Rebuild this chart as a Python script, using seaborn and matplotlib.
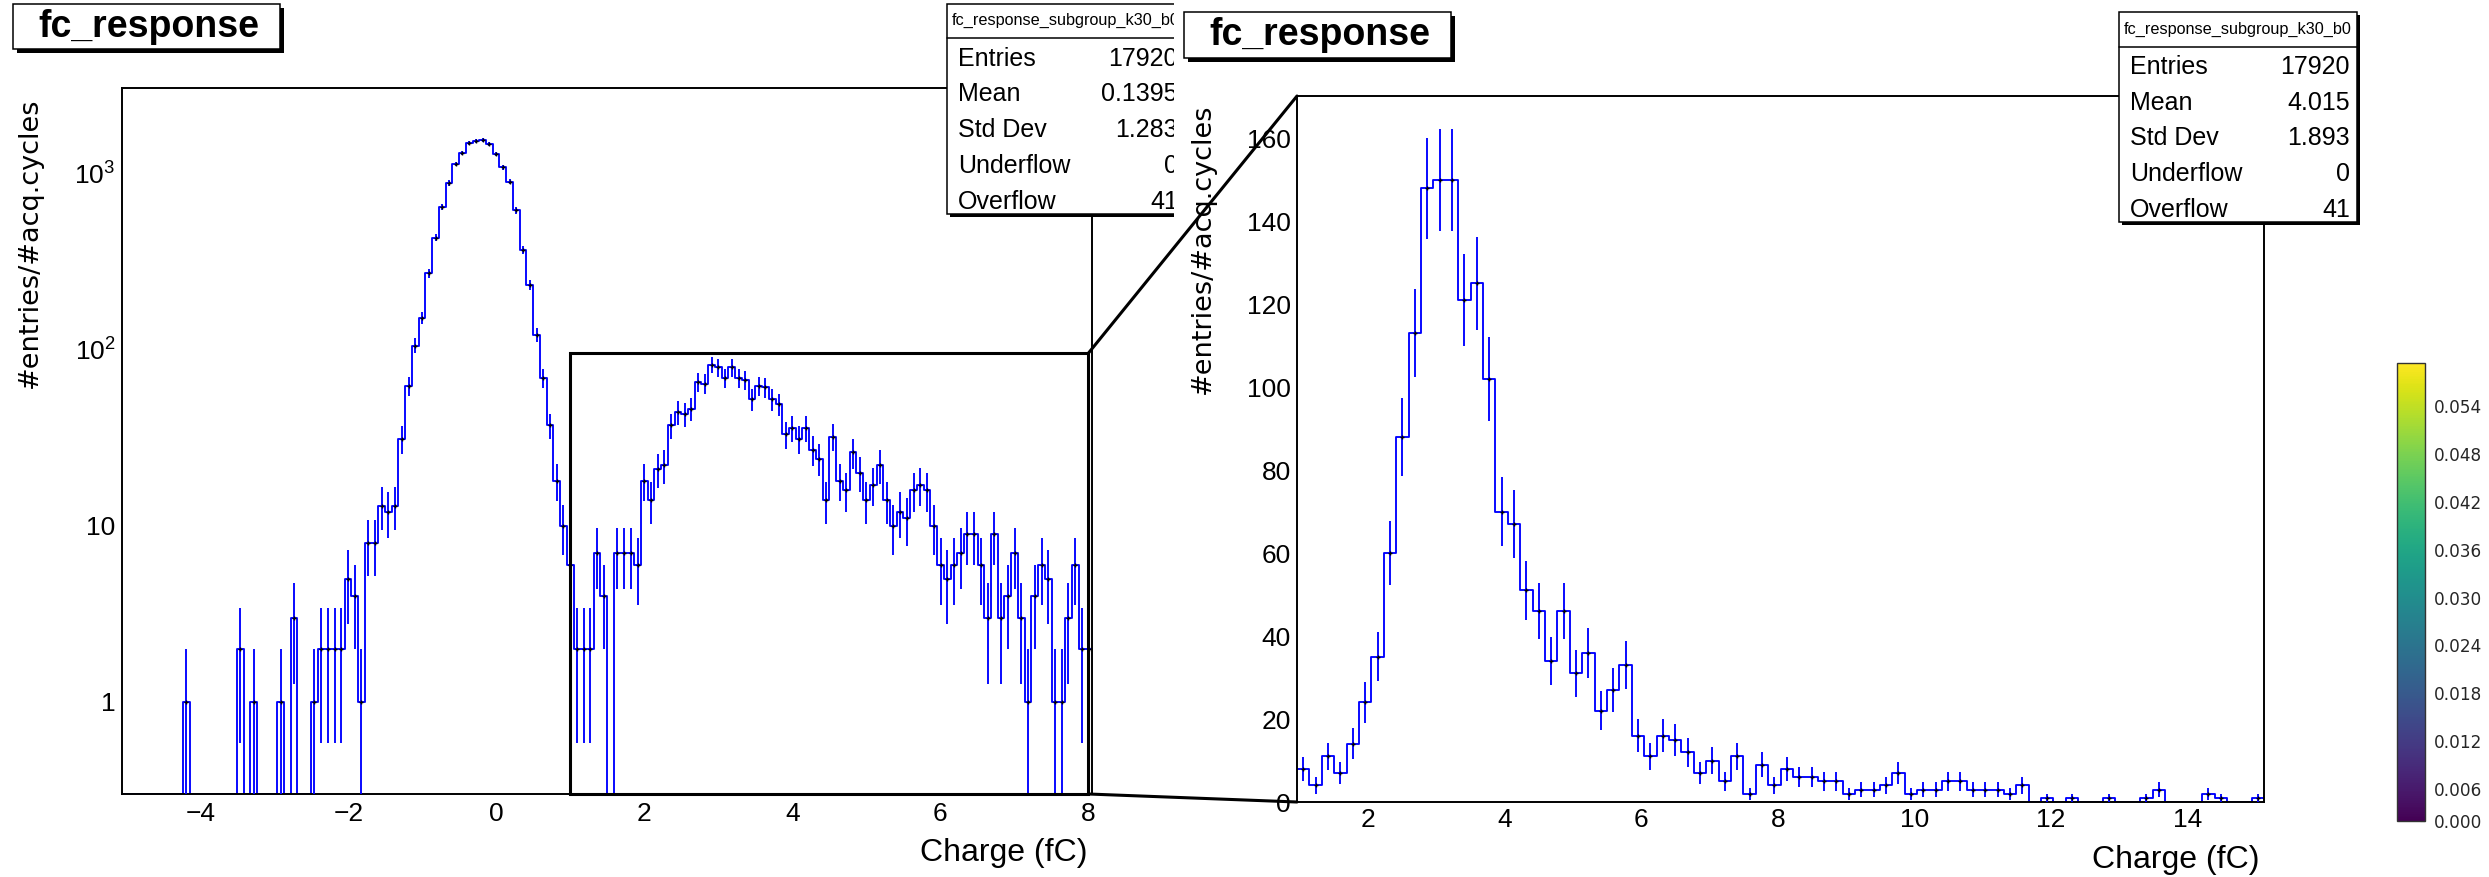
import numpy as np
import pandas as pd
import matplotlib
matplotlib.use("Agg")
import matplotlib.pyplot as plt
from matplotlib.patches import Rectangle, ConnectionPatch
from matplotlib.lines import Line2D
from matplotlib.ticker import MultipleLocator, LogLocator, FuncFormatter, NullFormatter
from matplotlib.colors import Normalize
from matplotlib.cm import ScalarMappable
import seaborn as sns

# ---------------------------------------------------------------- data
# Full charge spectrum, shown on a log scale
full_range = (-5.055, 8.05)
full_nbins = 144
full_counts = [
    0, 0, 0, 0, 0, 0, 0, 0, 0, 1,
    0, 0, 0, 0, 0, 0, 0, 2, 0, 1,
    0, 0, 0, 1, 0, 3, 0, 0, 1, 2,
    2, 2, 2, 5, 4, 1, 8, 8, 13, 12,
    13, 31, 62, 105, 151, 270, 430, 643, 879, 1128,
    1303, 1480, 1524, 1550, 1465, 1288, 1077, 894, 614, 365,
    232, 121, 69, 37, 18, 10, 6, 2, 2, 2,
    7, 4, 0, 7, 7, 7, 6, 18, 14, 21,
    22, 37, 44, 43, 46, 65, 64, 82, 79, 69,
    79, 69, 67, 52, 62, 61, 52, 49, 33, 36,
    31, 36, 27, 24, 14, 32, 18, 16, 26, 20,
    14, 17, 22, 14, 10, 12, 11, 16, 17, 16,
    10, 6, 5, 6, 7, 9, 9, 6, 3, 9,
    3, 4, 7, 3, 1, 4, 6, 5, 1, 1,
    3, 6, 2, 2,
]

# Signal-region spectrum, shown on a linear scale
zoom_range = (0.963, 15.12)
zoom_nbins = 78
zoom_counts = [
    8, 4, 11, 7, 14, 24, 35, 60, 88, 113,
    148, 150, 150, 121, 125, 102, 70, 67, 51, 46,
    34, 46, 31, 36, 22, 27, 33, 16, 11, 16,
    15, 12, 7, 10, 5, 11, 2, 9, 4, 8,
    6, 6, 5, 5, 2, 3, 3, 4, 7, 2,
    3, 3, 5, 5, 3, 3, 3, 2, 4, 0,
    1, 0, 1, 0, 0, 1, 0, 0, 1, 3,
    0, 0, 0, 2, 1, 0, 0, 1,
]

# Window of the full spectrum that is magnified on the right
zoom_window_x = (1.0, 8.0)
zoom_window_ytop = 95.0

# Axis ranges
full_ylim = (0.3, 3040.0)
zoom_ylim = (0.0, 170.2)

hist_title = "fc_response"
hist_name = "fc_response_subgroup_k30_b0"
stat_labels = ["Entries", "Mean", "Std Dev", "Underflow", "Overflow"]
full_stat_values = ["17920", "0.1395", "1.283", "0", "41"]
zoom_stat_values = ["17920", "4.015", "1.893", "0", "41"]
x_title = "Charge (fC)"
y_title = "#entries/#acq.cycles"

cbar_range = (0.0020, 0.0594)
cbar_ticks = [0.006, 0.012, 0.018, 0.024, 0.030, 0.036, 0.042, 0.048, 0.054]
cbar_bottom_label = "0.000"

# ---------------------------------------------------------------- style
sns.set_style("white")
plt.rcParams["font.family"] = ["Liberation Sans", "DejaVu Sans"]
plt.rcParams["mathtext.fontset"] = "custom"
plt.rcParams["mathtext.rm"] = "Liberation Sans"
plt.rcParams["mathtext.it"] = "Liberation Sans:italic"
plt.rcParams["mathtext.bf"] = "Liberation Sans:bold"
plt.rcParams["axes.unicode_minus"] = True

BLUE = "#0000ff"
LW = 1.35
W, H = 2489, 877
fig = plt.figure(figsize=(W / 100, H / 100), dpi=100, facecolor="white")


def px_axes(x0, y0, x1, y1):
    """Axes placed by pixel box (origin top-left)."""
    return fig.add_axes([x0 / W, 1 - y1 / H, (x1 - x0) / W, (y1 - y0) / H])


def draw_hist(ax, edges, counts, floor):
    counts = np.asarray(counts, dtype=float)
    centers = 0.5 * (edges[:-1] + edges[1:])
    shown = np.where(counts > 0, counts, floor)
    frame = pd.DataFrame({"charge": centers, "entries": shown})
    sns.histplot(data=frame, x="charge", weights="entries", bins=list(edges),
                 element="step", fill=False, color=BLUE, linewidth=LW, ax=ax)
    nz = counts > 0
    err = np.sqrt(counts[nz])
    lo = np.maximum(counts[nz] - err, floor)
    ax.vlines(centers[nz], lo, counts[nz] + err, color=BLUE, lw=LW, zorder=3)
    ax.plot(centers[nz], counts[nz], ls="none", marker="+", ms=3.5, mew=1.0,
            color="black", zorder=4)
    ax.set_xlabel("")
    ax.set_ylabel("")


def style_axes(ax, xmaj, xmin, ymaj, ymin, xpad, ypad):
    ax.tick_params(which="both", direction="in", top=False, right=False,
                   width=1.4, color="black", labelsize=19, labelcolor="black")
    ax.tick_params(axis="x", which="major", length=xmaj, pad=xpad)
    ax.tick_params(axis="x", which="minor", length=xmin)
    ax.tick_params(axis="y", which="major", length=ymaj, pad=ypad)
    ax.tick_params(axis="y", which="minor", length=ymin)
    for s in ax.spines.values():
        s.set_linewidth(1.4)
        s.set_color("black")
    ax.grid(False)


# ---------------------------------------------------------------- left: full spectrum
axL = px_axes(122.4, 88, 1092, 794)
full_edges = np.linspace(full_range[0], full_range[1], full_nbins + 1)
draw_hist(axL, full_edges, full_counts, full_ylim[0])
axL.set_yscale("log")
axL.set_xlim(*full_range)
axL.set_ylim(*full_ylim)
axL.xaxis.set_major_locator(MultipleLocator(2))
axL.xaxis.set_minor_locator(MultipleLocator(0.5))
axL.yaxis.set_major_locator(LogLocator(base=10, numticks=10))
axL.yaxis.set_minor_locator(LogLocator(base=10, subs=np.arange(2, 10), numticks=20))
axL.yaxis.set_minor_formatter(NullFormatter())


def log_label(v, _pos):
    e = int(round(np.log10(v)))
    if e == 0:
        return "1"
    if e == 1:
        return "10"
    return r"$\mathregular{10^{%d}}$" % e


axL.yaxis.set_major_formatter(FuncFormatter(log_label))
style_axes(axL, 14.4, 7.2, 21.6, 10.8, 5.5, 5.0)

# magnified window marker
axL.add_patch(Rectangle((zoom_window_x[0], full_ylim[0]),
                        zoom_window_x[1] - zoom_window_x[0],
                        zoom_window_ytop - full_ylim[0],
                        fill=False, ec="black", lw=2.2, zorder=6, clip_on=False))

# ---------------------------------------------------------------- right: signal region
axR = px_axes(1297, 96, 2264.3, 802)
zoom_edges = np.linspace(zoom_range[0], zoom_range[1], zoom_nbins + 1)
draw_hist(axR, zoom_edges, zoom_counts, 0.0)
axR.set_xlim(*zoom_range)
axR.set_ylim(*zoom_ylim)
axR.xaxis.set_major_locator(MultipleLocator(2))
axR.xaxis.set_minor_locator(MultipleLocator(0.5))
axR.yaxis.set_major_locator(MultipleLocator(20))
axR.yaxis.set_minor_locator(MultipleLocator(5))
style_axes(axR, 15.6, 7.2, 20.2, 10.1, 4.5, 4.3)

# ---------------------------------------------------------------- colour bar
cax = px_axes(2397, 363, 2425, 821)
sm = ScalarMappable(norm=Normalize(*cbar_range), cmap="viridis")
cb = fig.colorbar(sm, cax=cax)
cb.set_ticks([cbar_range[0]] + cbar_ticks,
             labels=[cbar_bottom_label] + ["%.3f" % t for t in cbar_ticks])
cax.tick_params(direction="in", length=3.6, width=0.8, pad=6.3, labelsize=12.2,
                color="#222222")
for lbl in cax.get_yticklabels():
    lbl.set_fontfamily("DejaVu Sans")
    lbl.set_fontsize(12.2)
cb.outline.set_linewidth(1.0)
cb.outline.set_edgecolor("#333333")

# ---------------------------------------------------------------- annotations (pixel coords)
ov = fig.add_axes([0, 0, 1, 1])
ov.set_xlim(0, W)
ov.set_ylim(H, 0)
ov.axis("off")


def title_box(ax, x0, y0, x1, y1, text, cx, baseline):
    ax.add_patch(Rectangle((x0 + 4, y0 + 4), x1 - x0, y1 - y0, fc="black", ec="none"))
    ax.add_patch(Rectangle((x0, y0), x1 - x0, y1 - y0, fc="white", ec="black", lw=1.1))
    ax.text(cx, baseline, text, ha="center", va="baseline", fontsize=27,
            fontweight="bold", color="black")


def stats_box(ax, x0, y0, name, values, clip=False):
    w, h = 237.7, 210.2
    ax.add_patch(Rectangle((x0 + 3, y0 + 3), w, h, fc="black", ec="none"))
    ax.add_patch(Rectangle((x0, y0), w, h, fc="white", ec="black", lw=1.1))
    ax.add_line(Line2D([x0, x0 + w], [y0 + 34.4, y0 + 34.4], color="black", lw=1.1))
    ax.text(x0 + w / 2, y0 + 21.2, name, ha="center", va="baseline",
            fontsize=11.7, color="black", clip_on=clip)
    for i, (lab, val) in enumerate(zip(stat_labels, values)):
        yb = y0 + 61.7 + i * 35.7
        ax.text(x0 + 10.7, yb, lab, ha="left", va="baseline", fontsize=18,
                color="black", clip_on=clip)
        ax.text(x0 + 230.7, yb, val, ha="right", va="baseline", fontsize=18,
                color="black", clip_on=clip)


title_box(ov, 13, 4, 280, 49, hist_title, 148.5, 37)
title_box(ov, 1184, 12, 1451, 57.5, hist_title, 1320, 45)
stats_box(ov, 2119.3, 12.3, hist_name, zoom_stat_values)

ov.text(30, 98, y_title, rotation=90, ha="center", va="top", fontsize=19.5,
        family="DejaVu Sans", color="black")
ov.text(1203, 103, y_title, rotation=90, ha="center", va="top", fontsize=19.5,
        family="DejaVu Sans", color="black")
ov.text(1087, 861, x_title, ha="right", va="baseline", fontsize=23, color="black")
ov.text(2259, 868, x_title, ha="right", va="baseline", fontsize=23, color="black")

# stats box of the full spectrum, cut off where the right-hand pad begins
sl = px_axes(930, 0, 1174.4, 235)
sl.set_xlim(930, 1174.4)
sl.set_ylim(235, 0)
sl.axis("off")
stats_box(sl, 947.2, 4, hist_name, full_stat_values, clip=True)

# lines joining the magnified window to the right-hand view
for ya, yb in [(zoom_window_ytop, zoom_ylim[1]), (full_ylim[0], zoom_ylim[0])]:
    con = ConnectionPatch(xyA=(zoom_window_x[1], ya), coordsA=axL.transData,
                          xyB=(zoom_range[0], yb), coordsB=axR.transData,
                          color="black", lw=2.2, zorder=10)
    fig.add_artist(con)

fig.savefig("out.png", dpi=100, facecolor="white")
